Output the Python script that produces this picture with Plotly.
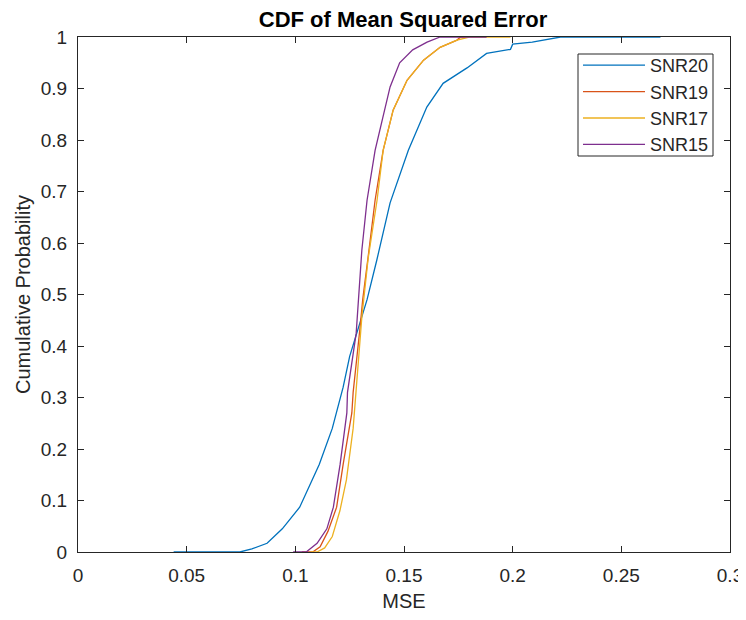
import plotly.graph_objects as go

# ---- data ----
snr20_x = [0.044, 0.0745, 0.080, 0.087, 0.094, 0.102, 0.111, 0.117, 0.122, 0.125, 0.133,
           0.1375, 0.1436, 0.152, 0.1605, 0.168, 0.179, 0.188, 0.199, 0.200, 0.209, 0.222, 0.268]
snr20_p = [0.0, 0.0, 0.006, 0.017, 0.045, 0.087, 0.17, 0.24, 0.32, 0.38, 0.49,
           0.567, 0.678, 0.78, 0.864, 0.91, 0.94, 0.968, 0.976, 0.986, 0.99, 1.0, 1.0]

snr19_x = [0.103, 0.108, 0.1114, 0.115, 0.119, 0.122, 0.126, 0.1266, 0.1298, 0.131, 0.1335,
           0.1367, 0.1404, 0.145, 0.1514, 0.159, 0.1666, 0.1744, 0.176, 0.180]
snr19_p = [0.0, 0.0, 0.01, 0.04, 0.087, 0.17, 0.27, 0.31, 0.437, 0.49, 0.573,
           0.683, 0.78, 0.858, 0.916, 0.955, 0.98, 0.994, 1.0, 1.0]

snr17_x = [0.107, 0.110, 0.1135, 0.117, 0.1205, 0.1235, 0.1266, 0.128, 0.1306, 0.1335, 0.1376,
           0.1404, 0.145, 0.1514, 0.159, 0.1666, 0.1744, 0.180, 0.199]
snr17_p = [0.0, 0.0, 0.008, 0.03, 0.08, 0.14, 0.24, 0.31, 0.456, 0.57, 0.683,
           0.78, 0.858, 0.916, 0.955, 0.98, 0.994, 1.0, 1.0]

snr15_x = [0.099, 0.105, 0.110, 0.1145, 0.1175, 0.1206, 0.1237, 0.124, 0.128, 0.129, 0.1306,
           0.133, 0.1367, 0.140, 0.1436, 0.148, 0.154, 0.1606, 0.1666, 0.188]
snr15_p = [0.0, 0.0, 0.017, 0.045, 0.087, 0.17, 0.27, 0.31, 0.425, 0.49, 0.586,
           0.683, 0.78, 0.839, 0.903, 0.95, 0.975, 0.99, 1.0, 1.0]

series_names = ["SNR20", "SNR19", "SNR17", "SNR15"]
series_colors = ["#0072BD", "#D95319", "#EDB120", "#7E2F8E"]

x_tick_vals = [0, 0.05, 0.1, 0.15, 0.2, 0.25, 0.3]
x_tick_text = ["0", "0.05", "0.1", "0.15", "0.2", "0.25", "0.3"]
y_tick_vals = [0, 0.1, 0.2, 0.3, 0.4, 0.5, 0.6, 0.7, 0.8, 0.9, 1]
y_tick_text = ["0", "0.1", "0.2", "0.3", "0.4", "0.5", "0.6", "0.7", "0.8", "0.9", "1"]

xs = [snr20_x, snr19_x, snr17_x, snr15_x]
ps = [snr20_p, snr19_p, snr17_p, snr15_p]

FONT = "Liberation Sans, Arial, sans-serif"
# page is offset by the 8px body margin; figure sized to fit the 746x620 window
W, H = 738, 604
L, R, T, B = 70, 16, 29, 60
PW, PH = W - L - R, H - T - B   # 652 x 515


def px_x(px):   # page pixel -> paper x
    return (px - 8 - L) / PW


def px_y(py):   # page pixel -> paper y
    return (H - B - (py - 8)) / PH


fig = go.Figure()
for name, color, x, p in zip(series_names, series_colors, xs, ps):
    fig.add_trace(go.Scatter(x=x, y=p, mode="lines", name=name,
                             line=dict(color=color, width=1.3)))

axis_common = dict(
    showgrid=False, zeroline=False, showline=True, linecolor="#262626", linewidth=1,
    mirror="ticks", ticks="inside", ticklen=6, tickcolor="#262626", automargin=False,
    ticklabeloverflow="allow",
    tickfont=dict(family=FONT, size=19, color="#262626"),
)

# legend frame
fig.add_shape(type="rect", xref="paper", yref="paper",
              x0=px_x(578), x1=px_x(713), y0=px_y(156), y1=px_y(54),
              fillcolor="white", line=dict(color="#262626", width=1), layer="above")

fig.update_layout(
    width=W, height=H,
    margin=dict(l=L, r=R, t=T, b=B, autoexpand=False),
    paper_bgcolor="white", plot_bgcolor="white",
    font=dict(family=FONT, color="#262626"),
    title=dict(text="<b>CDF of Mean Squared Error</b>", x=(403 - 8) / W, xanchor="center",
               xref="container", y=1 - (19 - 8) / H, yanchor="middle",
               font=dict(size=22, color="#000000")),
    xaxis=dict(range=[0, 0.3], tickvals=x_tick_vals, ticktext=x_tick_text,
               ticklabelstandoff=6,
               title=dict(text="MSE", font=dict(size=20), standoff=14), **axis_common),
    yaxis=dict(range=[0, 1], tickvals=y_tick_vals, ticktext=y_tick_text,
               ticklabelstandoff=6,
               title=dict(text="Cumulative Probability", font=dict(size=20), standoff=4),
               **axis_common),
    legend=dict(x=px_x(578), xanchor="left", y=px_y(47), yanchor="top",
                bgcolor="rgba(0,0,0,0)", borderwidth=0, itemwidth=62,
                font=dict(size=18, color="#262626"), tracegroupgap=0),
    showlegend=True,
)

fig.write_html("out.html")
